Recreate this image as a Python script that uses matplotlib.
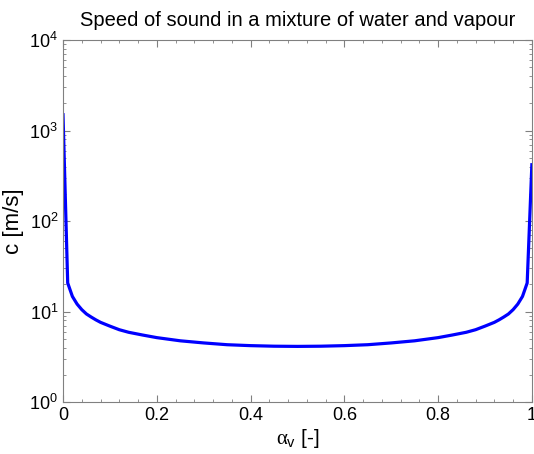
import numpy as np
import matplotlib.pyplot as plt
from matplotlib.ticker import MultipleLocator, LogLocator, NullFormatter

# valeurs
alpha_v = [0.0, 0.01, 0.02, 0.03, 0.04, 0.05, 0.06, 0.07, 0.08, 0.1,
           0.12, 0.14, 0.17, 0.2, 0.25, 0.3, 0.35, 0.4, 0.45, 0.5,
           0.55, 0.6, 0.65, 0.7, 0.75, 0.8, 0.83, 0.86, 0.88, 0.9,
           0.92, 0.93, 0.94, 0.95, 0.96, 0.97, 0.98, 0.99, 1.0]
vitesse = [1500, 20.7, 14.7, 12.1, 10.5, 9.4, 8.7, 8.1, 7.6, 6.9,
           6.3, 5.9, 5.5, 5.15, 4.75, 4.5, 4.3, 4.2, 4.14, 4.12,
           4.14, 4.2, 4.3, 4.5, 4.75, 5.15, 5.5, 5.9, 6.3, 6.9,
           7.6, 8.1, 8.7, 9.4, 10.5, 12.1, 14.7, 20.7, 420]

plt.rcParams['font.family'] = ['Liberation Sans', 'DejaVu Sans']
plt.rcParams['mathtext.fontset'] = 'custom'
plt.rcParams['mathtext.rm'] = 'Liberation Serif'
plt.rcParams['mathtext.it'] = 'Liberation Serif'
plt.rcParams['mathtext.sf'] = 'Liberation Sans'

fig = plt.figure(figsize=(5.34, 4.54), dpi=100)
ax = fig.add_axes([0.118, 0.1145, 0.878, 0.797])

ax.semilogy(alpha_v, vitesse, color='#0000ff', linewidth=2.3)

ax.set_xlim(0, 1)
ax.set_ylim(1, 1e4)
ax.xaxis.set_minor_locator(MultipleLocator(0.04))
ax.yaxis.set_major_locator(LogLocator(base=10))
ax.yaxis.set_minor_locator(LogLocator(base=10, subs=np.arange(2, 10)))
ax.yaxis.set_minor_formatter(NullFormatter())
ax.set_xticks([0, 0.2, 0.4, 0.6, 0.8, 1])
ax.set_xticklabels(['0', '0.2', '0.4', '0.6', '0.8', '1'])

gris = '#808080'
for s in ax.spines.values():
    s.set_color(gris)
    s.set_linewidth(0.8)
ax.tick_params(which='both', direction='in', top=True, right=True,
               color=gris, labelsize=13, labelcolor='black')
ax.tick_params(which='major', length=5)
ax.tick_params(which='minor', length=2.5)

ax.set_title('Speed of sound in a mixture of water and vapour', fontsize=14.5, pad=10)
ax.set_xlabel(r'$\alpha_{\mathsf{v}}$ [-]', fontsize=15, labelpad=2)
ax.set_ylabel('c [m/s]', fontsize=16, labelpad=4)

fig.savefig('out.png', dpi=100)
